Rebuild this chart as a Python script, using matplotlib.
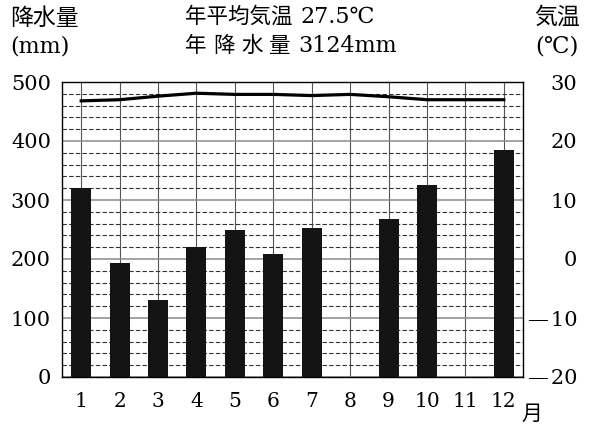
import matplotlib
matplotlib.use('Agg')
from matplotlib import pyplot as plt
import numpy as np

months = list(range(1, 13))
# precipitation (mm); months 8 and 11 are left blank in the original
precip = [321, 193, 130, 221, 250, 208, 253, None, 267, 326, None, 385]
temps = [26.8, 27.0, 27.6, 28.1, 27.9, 27.9, 27.7, 27.9, 27.5, 27.0, 27.0, 27.0]
left_ticks = [0, 100, 200, 300, 400, 500]
right_ticks = [-20, -10, 0, 10, 20, 30]
right_labels = ['\u2014\u200a20', '\u2014\u200a10', '0', '10', '20', '30']

serif = ['DejaVu Serif', 'Noto Sans CJK JP']
jp = ['Noto Sans CJK JP', 'DejaVu Sans']
plt.rcParams['font.family'] = serif

fig = plt.figure(figsize=[5.94, 4.25], dpi=100)
ax = fig.add_axes([62 / 594, 1 - 377 / 425, (523 - 62) / 594, (377 - 82) / 425])

# bars
bx = [m for m, p in zip(months, precip) if p is not None]
bh = [p for p in precip if p is not None]
ax.bar(bx, bh, width=0.52, color='#141414', zorder=3)

ax.set_xlim(0.5, 12.5)
ax.set_ylim(0, 500)
ax.set_xticks(months)
ax.set_xticklabels([str(m) for m in months], fontsize=14.5)
ax.set_yticks(left_ticks)
ax.set_yticklabels([str(v) for v in left_ticks], fontsize=15)
ax.set_yticks(np.arange(0, 501, 20), minor=True)
ax.tick_params(axis='both', which='both', length=0)
ax.tick_params(axis='x', pad=11)
ax.tick_params(axis='y', pad=8)

# grid
ax.set_axisbelow(True)
ax.grid(which='minor', axis='y', linestyle=(0, (4, 2)), color='#333333', linewidth=0.8, zorder=0)
ax.grid(which='major', axis='y', linestyle='-', color='#8a8a8a', linewidth=1.1, zorder=1)
ax.grid(which='major', axis='x', linestyle='-', color='#555555', linewidth=0.8, zorder=1)
for s in ax.spines.values():
    s.set_color('black')
    s.set_linewidth(1.0)
    s.set_zorder(5)

# temperature on right axis
ax2 = ax.twinx()
ax2.plot(months, temps, color='black', linewidth=2.3, zorder=4)
ax2.set_ylim(-20, 30)
ax2.set_yticks(right_ticks)
ax2.set_yticklabels(right_labels, fontsize=15)
ax2.tick_params(axis='y', length=0, pad=39)
for lab in ax2.get_yticklabels():
    lab.set_horizontalalignment('right')
for s in ax2.spines.values():
    s.set_visible(False)

# header texts (pixel positions, origin top-left)
def ftext(x, y, s, fam, size=15, **kw):
    fig.text(x / 594, 1 - y / 425, s, family=fam, fontsize=size, va='center', **kw)

ftext(10, 18, '降水量', jp, 16.5)
ftext(10, 46, '(mm)', serif, 16)
ftext(185, 17, '年平均気温', jp, 15.5)
ftext(300, 17, '27.5℃', serif, 16)
for ch, x in zip('年降水量', [185, 213, 241, 269]):
    ftext(x, 46, ch, jp, 15.5)
ftext(298, 46, '3124mm', serif, 16)
ftext(534, 17, '気温', jp, 16.5)
ftext(535, 47, '(℃)', serif, 16.5)
ftext(521, 414, '月', jp, 15)

plt.savefig('out.png', dpi=100)
plt.close()
